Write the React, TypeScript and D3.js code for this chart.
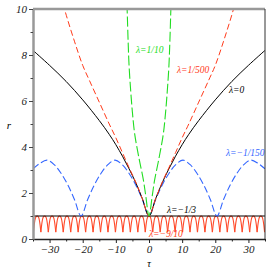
import { useEffect, useRef } from "react";
import * as d3 from "d3";

// curves, tau >= 0 half (mirrored for tau < 0)
const lam0: [number, number][] = [
  [0, 1], [2, 1.75], [4, 2.45], [6, 3.05], [8, 3.6], [10, 4.1], [12, 4.55],
  [15, 5.15], [20, 6.05], [25, 6.85], [30, 7.55], [35, 8.2],
];
const lam1500: [number, number][] = [
  [0, 1], [2, 1.75], [4, 2.47], [6, 3.1], [8, 3.75], [10, 4.4], [12, 5.0],
  [15, 5.95], [18, 6.9], [20, 7.55], [22.5, 8.6], [25.5, 10], [26.5, 10.6],
];
const lam110: [number, number][] = [
  [0, 1], [1, 1.9], [1.7, 2.57], [3, 3.5], [4.3, 4.55], [5, 5.5], [5.5, 6.4],
  [6, 7.5], [6.3, 8.6], [6.6, 10], [6.8, 10.8],
];
const lam1150: [number, number][] = [
  [0, 1], [2, 1.72], [4, 2.35], [6, 2.85], [8, 3.22], [10.25, 3.43],
  [12.5, 3.22], [14.5, 2.85], [16.5, 2.35], [18.5, 1.72], [20.5, 1],
  [22.5, 1.72], [24.5, 2.35], [26.5, 2.85], [28.5, 3.22], [30.75, 3.43],
  [33, 3.28], [35, 3.05],
];
const lam13 = 1;
// lambda = -9/10: peaks at r = 1, troughs at these tau values
const osc910Troughs = [
  -37.125, -34.875, -32.625, -30.375, -28.125, -25.875, -23.625, -21.375,
  -19.125, -16.875, -14.625, -12.375, -10.125, -7.875, -5.625, -3.375, -1.125,
  1.125, 3.375, 5.625, 7.875, 10.125, 12.375, 14.625, 16.875, 19.125, 21.375,
  23.625, 25.875, 28.125, 30.375, 32.625, 34.875, 37.125,
];
const osc910Low = 0.3;

const xTicks = [-30, -20, -10, 0, 10, 20, 30];
const yTicks = [0, 2, 4, 6, 8, 10];

function mirror(pts: [number, number][]): [number, number][] {
  const left = pts.slice(1).map(([t, r]) => [-t, r] as [number, number]).reverse();
  return [...left, ...pts];
}

export default function App() {
  const svgRef = useRef<SVGSVGElement>(null);

  useEffect(() => {
    const width = 270;
    const height = 270;
    const margin = { top: 9, right: 5, bottom: 31, left: 33 };

    const svg = d3.select(svgRef.current!).attr("width", width).attr("height", height);
    svg.selectAll("*").remove();

    const x = d3.scaleLinear().domain([-35, 35]).range([margin.left, width - margin.right]);
    const y = d3.scaleLinear().domain([0, 10]).range([height - margin.bottom, margin.top]);

    svg.append("defs").append("clipPath").attr("id", "plot")
      .append("rect")
      .attr("x", margin.left).attr("y", margin.top)
      .attr("width", width - margin.left - margin.right)
      .attr("height", height - margin.top - margin.bottom);

    const g = svg.append("g").attr("clip-path", "url(#plot)");

    const line = d3.line<[number, number]>()
      .x((d) => x(d[0]))
      .y((d) => y(d[1]))
      .curve(d3.curveCatmullRom);

    // lambda = -9/10 oscillation, one arch between each pair of troughs
    for (let i = 0; i < osc910Troughs.length - 1; i++) {
      const a = osc910Troughs[i];
      const b = osc910Troughs[i + 1];
      const w = b - a;
      const arch: [number, number][] = [
        [a, osc910Low], [a + 0.18 * w, 0.78], [a + 0.32 * w, 0.95], [(a + b) / 2, 1],
        [b - 0.32 * w, 0.95], [b - 0.18 * w, 0.78], [b, osc910Low],
      ];
      g.append("path").attr("d", line(arch)).attr("fill", "none")
        .attr("stroke", "#ff4a2a").attr("stroke-width", 1.1);
    }

    // lambda = -1/3
    g.append("path")
      .attr("d", line([[-35, lam13], [35, lam13]]))
      .attr("fill", "none").attr("stroke", "#000").attr("stroke-width", 1);

    // lambda = -1/150
    g.append("path").attr("d", line(mirror(lam1150))).attr("fill", "none")
      .attr("stroke", "#3366ff").attr("stroke-width", 1.1).attr("stroke-dasharray", "7,3");

    // lambda = 0
    g.append("path").attr("d", line(mirror(lam0))).attr("fill", "none")
      .attr("stroke", "#000").attr("stroke-width", 1);

    // lambda = 1/500
    g.append("path").attr("d", line(mirror(lam1500))).attr("fill", "none")
      .attr("stroke", "#ff3a1a").attr("stroke-width", 1).attr("stroke-dasharray", "6,3");

    // lambda = 1/10
    g.append("path").attr("d", line(mirror(lam110))).attr("fill", "none")
      .attr("stroke", "#22dd22").attr("stroke-width", 1.1).attr("stroke-dasharray", "10,3");

    // frame
    const x0 = margin.left, x1 = width - margin.right;
    const y0 = margin.top, y1 = height - margin.bottom;
    svg.append("line").attr("x1", x0).attr("x2", x1).attr("y1", y0).attr("y2", y0)
      .attr("stroke", "#999").attr("stroke-width", 2.5);
    svg.append("line").attr("x1", x1).attr("x2", x1).attr("y1", y0).attr("y2", y1)
      .attr("stroke", "#333").attr("stroke-width", 1);

    const font = "'Liberation Serif', 'DejaVu Serif', serif";

    const xAxis = d3.axisBottom(x).tickValues(d3.range(-35, 36, 5))
      .tickSize(0).tickFormat(() => "");
    const gx = svg.append("g").attr("transform", `translate(0,${y1})`).call(xAxis);
    gx.select(".domain").attr("stroke", "#222").attr("stroke-width", 1.5);
    gx.selectAll(".tick").append("line")
      .attr("y1", 0).attr("y2", (d: any) => (d % 10 === 0 ? 4 : 2.5))
      .attr("stroke", "#222");
    gx.selectAll(".tick")
      .filter((d: any) => xTicks.includes(d))
      .append("text")
      .attr("y", 14).attr("fill", "#222").attr("text-anchor", "middle")
      .style("font-family", font).style("font-style", "italic").style("font-size", "11px")
      .text((d: any) => (d < 0 ? "\u2212" + Math.abs(d) : String(d)));

    const yAxis = d3.axisLeft(y).tickValues(d3.range(0, 11, 1))
      .tickSize(0).tickFormat(() => "");
    const gy = svg.append("g").attr("transform", `translate(${x0},0)`).call(yAxis);
    gy.select(".domain").attr("stroke", "#999").attr("stroke-width", 2.5);
    gy.selectAll(".tick").append("line")
      .attr("x1", 0).attr("x2", (d: any) => (d % 2 === 0 ? -4 : -2.5))
      .attr("stroke", "#444");
    gy.selectAll(".tick")
      .filter((d: any) => yTicks.includes(d))
      .append("text")
      .attr("x", -6).attr("dy", "0.35em").attr("fill", "#222").attr("text-anchor", "end")
      .style("font-family", font).style("font-style", "italic").style("font-size", "11px")
      .text((d: any) => String(d));

    svg.append("text").attr("x", 9).attr("y", 129)
      .style("font-family", font).style("font-style", "italic").style("font-size", "11px")
      .attr("text-anchor", "middle").text("r");
    svg.append("text").attr("x", x(0)).attr("y", 267)
      .style("font-family", font).style("font-style", "italic").style("font-size", "10px")
      .attr("text-anchor", "middle").text("\u03c4");

    const labels: [string, number, number, string][] = [
      ["\u03bb=1/10", 136, 53, "#22dd22"],
      ["\u03bb=1/500", 177, 73, "#ff3a1a"],
      ["\u03bb=0", 229, 93, "#000"],
      ["\u03bb=\u22121/150", 226, 156, "#3366ff"],
      ["\u03bb=\u22121/3", 167, 213, "#000"],
      ["\u03bb=\u22129/10", 149, 237, "#ff3a1a"],
    ];
    svg.selectAll("text.lab").data(labels).enter().append("text")
      .attr("class", "lab")
      .attr("x", (d) => d[1]).attr("y", (d) => d[2]).attr("fill", (d) => d[3])
      .style("font-family", font).style("font-style", "italic").style("font-size", "9.5px")
      .text((d) => d[0]);
  }, []);

  return (
    <svg ref={svgRef} style={{ position: "absolute", left: 0, top: 0, background: "#fff" }}></svg>
  );
}
